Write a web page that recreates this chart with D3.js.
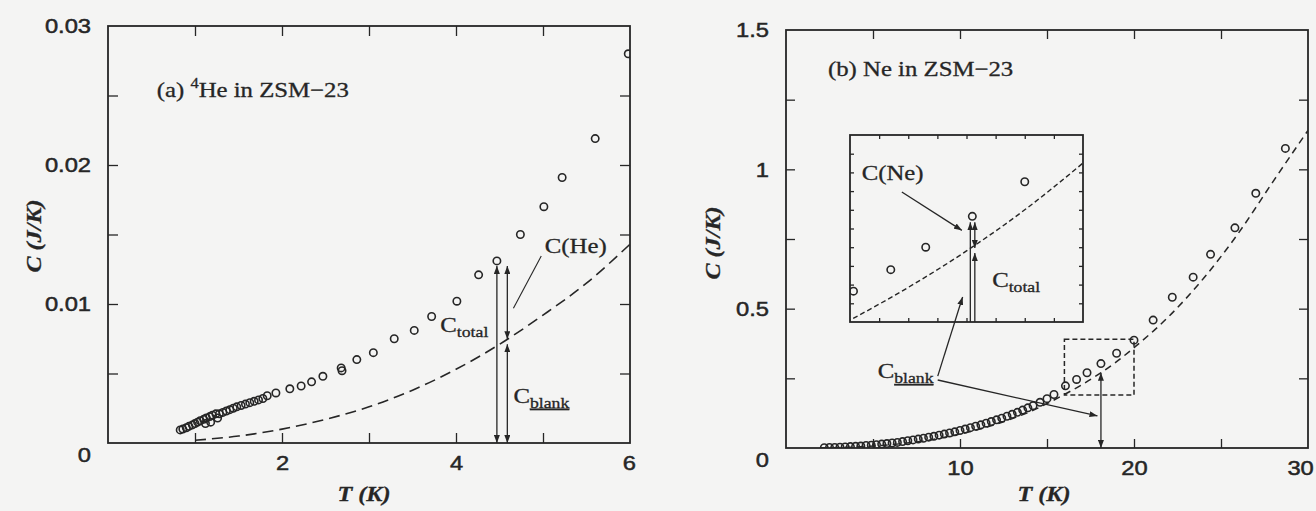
<!DOCTYPE html>
<html>
<head>
<meta charset="utf-8">
<script src="https://cdn.jsdelivr.net/npm/d3@7"></script>
<style>
  html, body { margin: 0; padding: 0; background: #f4f4f3; }
  svg { display: block; }
</style>
</head>
<body>
<svg id="fig" width="1316" height="511"></svg>
<script>
// (a) 4He in ZSM-23: measured total heat capacity
const heT = [0.83,0.86,0.9,0.93,0.97,1.0,1.03,1.06,1.1,1.12,1.13,1.17,1.18,1.2,1.24,1.26,1.28,1.32,1.36,1.4,1.44,1.48,1.53,1.58,1.63,1.68,1.73,1.78,1.83,1.93,2.09,2.22,2.34,2.47,2.68,2.69,2.86,3.05,3.29,3.52,3.72,4.01,4.26,4.47,4.74,5.01,5.22,5.6,5.98];
const heC = [0.00094,0.0010,0.0011,0.0012,0.0013,0.0014,0.0015,0.0016,0.0017,0.0014,0.0018,0.0019,0.0015,0.0020,0.0021,0.0018,0.0021,0.0022,0.0023,0.0024,0.0025,0.0026,0.0027,0.0028,0.0029,0.0030,0.0031,0.0032,0.0034,0.0036,0.0039,0.0041,0.0044,0.0048,0.0054,0.0052,0.0060,0.0065,0.0075,0.0081,0.0091,0.0102,0.0121,0.0131,0.0150,0.0170,0.0191,0.0219,0.0280];
// (a) empty-cell (blank) heat capacity, dashed
const heBlankT = [1.0,1.5,2.0,2.5,3.0,3.5,4.0,4.5,5.0,5.5,6.0];
const heBlankC = [0.0002,0.0005,0.0010,0.0017,0.0026,0.0038,0.0053,0.0071,0.0092,0.0115,0.0143];
const heXLabels = [2,4,6];
const heYLabels = [0.01,0.02,0.03];

// (b) Ne in ZSM-23: measured total heat capacity
const neT = [2.2,2.5,2.8,3.1,3.4,3.7,4.0,4.3,4.6,4.9,5.2,5.5,5.8,6.1,6.4,6.7,7.0,7.3,7.6,7.9,8.2,8.5,8.8,9.1,9.4,9.7,10.0,10.3,10.6,10.9,11.2,11.5,11.8,12.1,12.4,12.7,13.0,13.3,13.6,13.9,14.2,14.6,15.0,15.4,16.06,16.7,17.3,18.1,19.0,20.0,21.1,22.2,23.4,24.4,25.8,27.0,28.7];
const neC = [0.001,0.002,0.002,0.003,0.004,0.005,0.006,0.007,0.009,0.010,0.012,0.014,0.016,0.018,0.020,0.023,0.026,0.029,0.032,0.035,0.039,0.042,0.046,0.050,0.054,0.058,0.063,0.068,0.073,0.078,0.083,0.089,0.095,0.101,0.107,0.114,0.121,0.128,0.136,0.144,0.152,0.164,0.177,0.192,0.223,0.246,0.270,0.303,0.340,0.387,0.459,0.541,0.613,0.695,0.790,0.914,1.075];
// (b) blank heat capacity, dashed
const neBlankT = [2,4,6,8,10,12,14,16,17,18,19,20,22,24,26,28,30];
const neBlankC = [0.0005,0.0037,0.0116,0.0264,0.050,0.084,0.130,0.192,0.227,0.266,0.310,0.360,0.472,0.609,0.771,0.957,1.140];
const neXLabels = [10,20,30];
const neYLabels = [0.5,1,1.5];

const INK = "#262626";
const BG = "#f4f4f3";
const SERIF = "'Liberation Serif','Times New Roman',serif";
const SANS = "'Liberation Sans',Arial,sans-serif";
const SX = 1.18; // horizontal stretch of lettering

const svg = d3.select("#fig");
const defs = svg.append("defs");
defs.append("marker")
  .attr("id", "head").attr("viewBox", "0 0 8 6")
  .attr("refX", 8).attr("refY", 3)
  .attr("markerWidth", 8).attr("markerHeight", 6)
  .attr("markerUnits", "userSpaceOnUse")
  .attr("orient", "auto-start-reverse")
  .append("path").attr("d", "M0,0 L8,3 L0,6 Z").attr("fill", INK);

const pts = (T, C) => T.map((t, i) => [t, C[i]]);

function frameAndTicks(g, x, y, xt, yt, len) {
  const [x0, x1] = x.range(), [y0, y1] = y.range();
  const mk = (axis, tr) => g.append("g").attr("transform", tr)
    .call(axis.tickSize(-len).tickFormat(""))
    .call(s => s.select(".domain").remove())
    .call(s => s.selectAll("line").attr("stroke", INK).attr("stroke-width", 1.3));
  mk(d3.axisBottom(x).tickValues(xt), `translate(0,${y0})`);
  mk(d3.axisTop(x).tickValues(xt), `translate(0,${y1})`);
  mk(d3.axisLeft(y).tickValues(yt), `translate(${x0},0)`);
  mk(d3.axisRight(y).tickValues(yt), `translate(${x1},0)`);
  g.append("rect").attr("x", x0).attr("y", y1)
    .attr("width", x1 - x0).attr("height", y0 - y1)
    .attr("fill", "none").attr("stroke", INK).attr("stroke-width", 1.8);
}

function tickLabels(g, x, y, xl, yl, fmt, lastShift) {
  const [x0] = x.range(), [y0] = y.range();
  const st = s => s.selectAll("text")
    .attr("font-family", SANS).attr("font-size", 21).attr("fill", INK)
    .attr("stroke", INK).attr("stroke-width", 0.5);
  g.append("g").attr("transform", `translate(0,${y0})`)
    .call(d3.axisBottom(x).tickValues(xl).tickSize(0).tickPadding(12).tickFormat(d3.format("d")))
    .call(s => s.select(".domain").remove())
    .call(st)
    .call(s => s.selectAll("text").attr("transform", `scale(${SX - 0.05},1)`))
    .call(s => s.selectAll(".tick").filter(d => d === x.domain()[1]).select("text").attr("dx", lastShift));
  g.append("g").attr("transform", `translate(${x0},0)`)
    .call(d3.axisLeft(y).tickValues([0, ...yl]).tickSize(0).tickPadding(15).tickFormat(fmt))
    .call(s => s.select(".domain").remove())
    .call(st)
    .call(s => s.selectAll("text").attr("transform", `scale(${SX - 0.05},1)`))
    .call(s => s.selectAll(".tick").filter(d => d === 0).select("text").attr("dy", "0.32em").attr("y", 12));
}

function txt(g, x, y, parts, opt = {}) {
  const t = g.append("text")
    .attr("transform", `translate(${x},${y}) scale(${opt.sx || SX},1)`)
    .attr("font-family", opt.family || SERIF)
    .attr("font-size", opt.size || 21)
    .attr("font-style", opt.style || "normal")
    .attr("font-weight", opt.weight || "normal")
    .attr("text-anchor", opt.anchor || "start")
    .attr("fill", INK).attr("stroke", INK).attr("stroke-width", 0.3);
  parts.forEach(p => {
    const ts = t.append("tspan").text(p.t);
    if (p.size) ts.attr("font-size", p.size);
    if (p.dy) ts.attr("dy", p.dy);
    if (p.u) ts.attr("text-decoration", "underline");
  });
  return t;
}

function arrow(g, x1, y1, x2, y2, start, end, w = 1.3) {
  const l = g.append("line").attr("x1", x1).attr("y1", y1).attr("x2", x2).attr("y2", y2)
    .attr("stroke", INK).attr("stroke-width", w);
  if (start) l.attr("marker-start", "url(#head)");
  if (end) l.attr("marker-end", "url(#head)");
  return l;
}

function circles(g, data, x, y, r, clip) {
  g.append("g").attr("clip-path", clip)
    .selectAll("circle").data(data).join("circle")
    .attr("cx", d => x(d[0])).attr("cy", d => y(d[1])).attr("r", r)
    .attr("fill", "none").attr("stroke", INK).attr("stroke-width", 1.6);
}

/* ---------------- panel (a) ---------------- */
{
  const x = d3.scaleLinear([0, 6], [108, 630]);
  const y = d3.scaleLinear([0, 0.03], [443, 26]);
  const g = svg.append("g");
  defs.append("clipPath").attr("id", "clipA").append("rect")
    .attr("x", 108).attr("y", 26).attr("width", 522).attr("height", 417);

  frameAndTicks(g, x, y, [1, 2, 3, 4, 5], [0.005, 0.01, 0.015, 0.02, 0.025], 10);
  tickLabels(g, x, y, heXLabels, heYLabels, d => d === 0 ? "0" : d3.format(".2f")(d), -1);

  const line = d3.line().x(d => x(d[0])).y(d => y(d[1])).curve(d3.curveMonotoneX);
  g.append("path").attr("d", line(pts(heBlankT, heBlankC)))
    .attr("fill", "none").attr("stroke", INK).attr("stroke-width", 1.6)
    .attr("stroke-dasharray", "11,6").attr("clip-path", "url(#clipA)");

  circles(g, pts(heT, heC), x, y, 3.7, "url(#clipA)");

  // decomposition arrows at T = 4.47 and 4.59
  const tA = 4.47, tB = 4.59, cTop = 0.0131, cBl = 0.0074;
  arrow(g, x(tA), y(0), x(tA), y(cTop) + 5, true, true);
  arrow(g, x(tB), y(cTop) + 5, x(tB), y(cBl) - 1, true, true);
  arrow(g, x(tB), y(cBl) + 4, x(tB), y(0), true, true);
  arrow(g, x(4.98), y(0.01345), x(4.66), y(0.0097), false, false, 1.1);

  txt(g, x(0.56), y(0.0249), [{t: "(a) "}, {t: "4", size: 14, dy: -9}, {t: "He in ZSM\u221223", dy: 9}]);
  txt(g, x(5.02), y(0.0137), [{t: "C(He)"}]);
  txt(g, x(3.82), y(0.0080), [{t: "C"}, {t: "total", size: 15, dy: 5}]);
  txt(g, x(4.66), y(0.0029), [{t: "C"}, {t: "blank", size: 15, dy: 5, u: true}]);

  txt(g, 364, 501, [{t: "T (K)"}], {style: "italic", weight: "bold", size: 22, anchor: "middle", sx: 1.1});
  txt(g, 0, 0, [{t: "C (J/K)"}], {style: "italic", weight: "bold", size: 22, anchor: "middle", sx: 1.1})
    .attr("transform", "translate(41,236) rotate(-90) scale(1.1,1)");
}

/* ---------------- panel (b) ---------------- */
{
  const x = d3.scaleLinear([0, 30], [786, 1308]);
  const y = d3.scaleLinear([0, 1.5], [448, 30]);
  const g = svg.append("g");
  defs.append("clipPath").attr("id", "clipB").append("rect")
    .attr("x", 786).attr("y", 30).attr("width", 522).attr("height", 418);

  frameAndTicks(g, x, y, [5, 10, 15, 20, 25], [0.25, 0.5, 0.75, 1, 1.25], 9);
  tickLabels(g, x, y, neXLabels, neYLabels, d => d === 0 ? "0" : d3.format("~g")(d), -7);

  const line = d3.line().x(d => x(d[0])).y(d => y(d[1])).curve(d3.curveMonotoneX);
  g.append("path").attr("d", line(pts(neBlankT, neBlankC)))
    .attr("fill", "none").attr("stroke", INK).attr("stroke-width", 1.5)
    .attr("stroke-dasharray", "7,5").attr("clip-path", "url(#clipB)");

  circles(g, pts(neT, neC), x, y, 3.7, "url(#clipB)");

  // zoom window
  g.append("rect").attr("x", x(16)).attr("y", y(0.39))
    .attr("width", x(20) - x(16)).attr("height", y(0.19) - y(0.39))
    .attr("fill", "none").attr("stroke", INK).attr("stroke-width", 1.5)
    .attr("stroke-dasharray", "5,3");

  // blank arrow at T = 18.1
  arrow(g, x(18.1), y(0), x(18.1), y(0.27), true, true);

  // inset: 16 K - 20 K
  const xi = d3.scaleLinear([16, 20], [850, 1083]);
  const yi = d3.scaleLinear([0.19, 0.39], [322, 135]);
  const gi = g.append("g");
  defs.append("clipPath").attr("id", "clipI").append("rect")
    .attr("x", 850).attr("y", 135).attr("width", 233).attr("height", 187);
  gi.append("rect").attr("x", 850).attr("y", 135).attr("width", 233).attr("height", 187)
    .attr("fill", BG);
  frameAndTicks(gi, xi, yi, d3.range(16.5, 20, 0.5), d3.range(0.21, 0.38, 0.02), 4);
  const lineI = d3.line().x(d => xi(d[0])).y(d => yi(d[1])).curve(d3.curveMonotoneX);
  gi.append("path").attr("d", lineI(pts(neBlankT, neBlankC)))
    .attr("fill", "none").attr("stroke", INK).attr("stroke-width", 1.4)
    .attr("stroke-dasharray", "5,3").attr("clip-path", "url(#clipI)");
  circles(gi, pts(neT, neC).filter(d => d[0] >= 16 && d[0] < 19.9), xi, yi, 3.7, "url(#clipI)");

  const tp = 18.1, cp = 0.303, cb = 0.268;
  arrow(gi, xi(tp) - 2, yi(0.19), xi(tp) - 2, yi(cp) + 6, false, true);
  arrow(gi, xi(tp) + 2.5, yi(cb) - 1, xi(tp) + 2.5, yi(cp) + 6, true, true);
  arrow(gi, xi(tp) + 2.5, yi(0.19), xi(tp) + 2.5, yi(cb) + 4, false, true);
  arrow(gi, xi(16.89), yi(0.329), xi(17.92), yi(0.288), false, true);

  txt(gi, xi(16.2), yi(0.342), [{t: "C(Ne)"}]);
  txt(gi, xi(18.44), yi(0.227), [{t: "C"}, {t: "total", size: 15, dy: 5}]);

  // blank leaders
  arrow(g, x(8.72), y(0.258), x(10.15), y(0.542), false, true);
  arrow(g, x(8.72), y(0.244), x(17.9), y(0.115), false, true);
  txt(g, x(5.27), y(0.251), [{t: "C"}, {t: "blank", size: 15, dy: 5, u: true}]);

  txt(g, x(2.41), y(1.335), [{t: "(b) Ne in ZSM\u221223"}]);

  txt(g, 1044, 501, [{t: "T (K)"}], {style: "italic", weight: "bold", size: 22, anchor: "middle", sx: 1.1});
  txt(g, 0, 0, [{t: "C (J/K)"}], {style: "italic", weight: "bold", size: 22, anchor: "middle", sx: 1.1})
    .attr("transform", "translate(720,243) rotate(-90) scale(1.1,1)");
}
</script>
</body>
</html>
